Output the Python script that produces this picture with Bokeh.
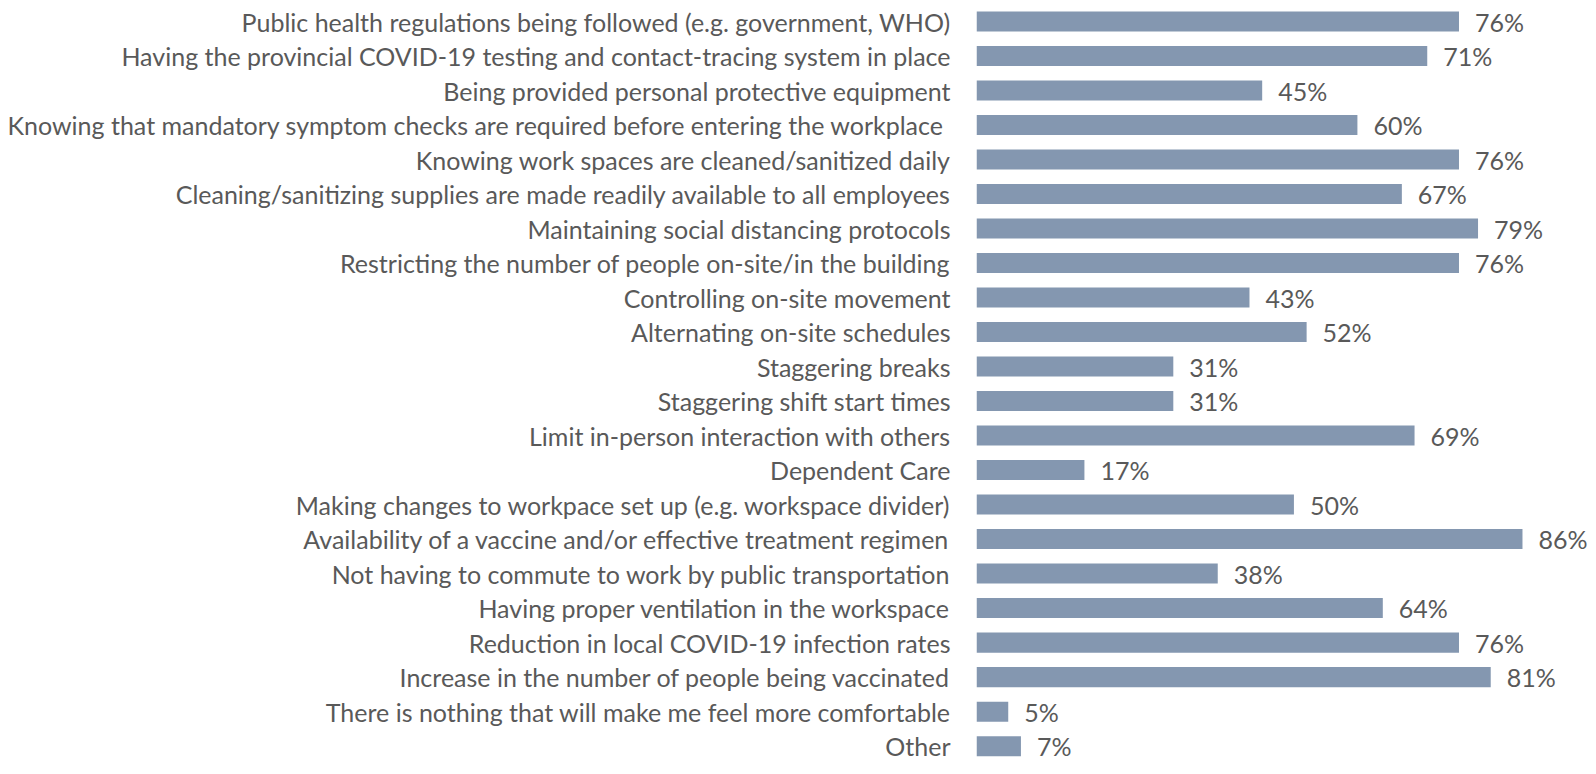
from bokeh.plotting import figure
from bokeh.models import ColumnDataSource, Range1d, FixedTicker
from bokeh.core.properties import value
from bokeh.embed import file_html
from bokeh.resources import INLINE

categories = [
    "Public health regulations being followed (e.g. government, WHO)",
    "Having the provincial COVID-19 testing and contact-tracing system in place",
    "Being provided personal protective equipment",
    "Knowing that mandatory symptom checks are required before entering the workplace ",
    "Knowing work spaces are cleaned/sanitized daily",
    "Cleaning/sanitizing supplies are made readily available to all employees",
    "Maintaining social distancing protocols",
    "Restricting the number of people on-site/in the building",
    "Controlling on-site movement",
    "Alternating on-site schedules",
    "Staggering breaks",
    "Staggering shift start times",
    "Limit in-person interaction with others",
    "Dependent Care",
    "Making changes to workpace set up (e.g. workspace divider)",
    "Availability of a vaccine and/or effective treatment regimen",
    "Not having to commute to work by public transportation",
    "Having proper ventilation in the workspace",
    "Reduction in local COVID-19 infection rates",
    "Increase in the number of people being vaccinated",
    "There is nothing that will make me feel more comfortable",
    "Other",
]
values = [76, 71, 45, 60, 76, 67, 79, 76, 43, 52, 31, 31, 69, 17, 50, 86, 38, 64, 76, 81, 5, 7]

idx = list(range(len(categories)))
labels = [f"{v}%" for v in values]
src = ColumnDataSource(dict(y=idx, v=values, lab=labels))

FONT = "Lato"
GREY = "#595959"
BAR = "#8497B0"
FS = "25px"

p = figure(width=1588, height=766, output_backend="svg", toolbar_location=None,
           x_range=Range1d(0, 96.4), y_range=Range1d(21.59, -0.609),
           min_border_left=976, min_border_right=0, min_border_top=0, min_border_bottom=0)
p.outline_line_color = None
p.background_fill_color = "white"
p.border_fill_color = "white"
p.xgrid.visible = False
p.ygrid.visible = False
p.xaxis.visible = False

p.hbar(y="y", right="v", left=0, height=0.58, source=src, fill_color=BAR, line_color=None)
p.text(x="v", y="y", text="lab", source=src, x_offset=16, text_baseline="middle",
       text_align="left", text_font=value(FONT), text_font_size=FS, text_color=GREY)

ya = p.yaxis[0]
ya.ticker = FixedTicker(ticks=idx)
ya.major_label_overrides = {i: c for i, c in zip(idx, categories)}
ya.axis_line_color = None
ya.major_tick_line_color = None
ya.minor_tick_line_color = None
ya.major_tick_out = 0
ya.major_tick_in = 0
ya.major_label_standoff = 26
ya.major_label_text_font = FONT
ya.major_label_text_font_size = FS
ya.major_label_text_color = GREY

open("out.html", "w").write(file_html(p, INLINE))
